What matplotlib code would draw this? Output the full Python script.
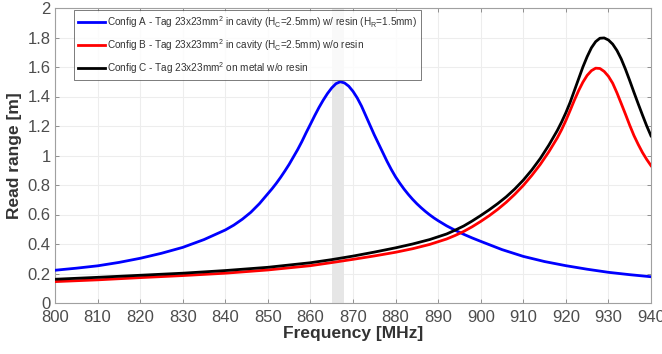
import matplotlib
matplotlib.use("Agg")
import matplotlib.pyplot as plt

plt.rcParams['font.family'] = ['Liberation Sans', 'DejaVu Sans']
plt.rcParams['mathtext.fontset'] = 'custom'
plt.rcParams['mathtext.rm'] = 'Liberation Sans'
plt.rcParams['mathtext.it'] = 'Liberation Sans:italic'
plt.rcParams['mathtext.bf'] = 'Liberation Sans:bold'

# Config A (blue)
freq_a = [800, 805, 810, 815, 820, 825, 830, 835, 840, 842, 844, 846, 848,
          850, 851, 852, 853, 854, 855, 856, 857, 858, 859, 860, 861, 862, 863,
          864, 865, 866, 867, 868, 869, 870, 871, 872, 873, 874, 875, 876, 877,
          878, 879, 880, 881, 882, 883, 884, 885, 886, 887, 888, 889, 890, 892,
          894, 896, 898, 900, 905, 910, 915, 920, 925, 930, 935, 940]
config_a = [0.222, 0.236, 0.252, 0.275, 0.303, 0.337, 0.377, 0.43, 0.495, 0.528,
            0.568, 0.615, 0.673,
            0.741, 0.775, 0.812, 0.852, 0.895, 0.94, 0.99, 1.04, 1.095, 1.155,
            1.212, 1.27, 1.325, 1.375, 1.42, 1.458, 1.487, 1.50, 1.492, 1.47,
            1.435, 1.39, 1.335, 1.27, 1.205, 1.14, 1.08, 1.02, 0.96, 0.905, 0.855,
            0.812, 0.772, 0.736, 0.703, 0.673, 0.646, 0.621, 0.598, 0.577, 0.558,
            0.523, 0.493, 0.466, 0.441, 0.418, 0.362, 0.316, 0.281, 0.253, 0.229,
            0.208, 0.192, 0.178]

# Config B (red)
freq_b = [800, 810, 820, 830, 840, 850, 860, 865, 870, 875, 880, 884, 888, 892,
          894, 896, 898, 900, 902, 904, 906, 908, 910, 912, 914, 916, 918, 919,
          920, 921, 922, 923, 924, 925, 926, 927, 928, 929, 930, 931, 932, 933,
          934, 935, 936, 937, 938, 939, 940]
config_b = [0.145, 0.157, 0.172, 0.186, 0.202, 0.224, 0.253, 0.274, 0.296, 0.319,
            0.344, 0.368, 0.397, 0.434, 0.458, 0.485, 0.517, 0.553, 0.592, 0.635,
            0.683, 0.737, 0.797, 0.865, 0.94, 1.025, 1.12, 1.175, 1.237, 1.305,
            1.375, 1.44, 1.497, 1.543, 1.575, 1.592, 1.59, 1.57, 1.537, 1.49,
            1.425, 1.353, 1.28, 1.205, 1.135, 1.075, 1.02, 0.973, 0.931]

# Config C (black)
freq_c = [800, 810, 820, 830, 840, 850, 860, 865, 870, 875, 880, 884, 888, 892,
          894, 896, 898, 900, 902, 904, 906, 908, 910, 912, 914, 916, 918, 919,
          920, 921, 922, 923, 924, 925, 926, 927, 928, 929, 930, 931, 932, 933,
          934, 935, 936, 937, 938, 939, 940]
config_c = [0.161, 0.174, 0.188, 0.202, 0.22, 0.242, 0.273, 0.294, 0.318, 0.345,
            0.374, 0.40, 0.43, 0.468, 0.494, 0.522, 0.556, 0.593, 0.632, 0.674,
            0.72, 0.773, 0.833, 0.902, 0.98, 1.07, 1.17, 1.227, 1.29, 1.36, 1.44,
            1.52, 1.60, 1.67, 1.73, 1.772, 1.795, 1.797, 1.783, 1.755, 1.712,
            1.655, 1.585, 1.508, 1.428, 1.35, 1.274, 1.20, 1.133]

band = [865, 868]

labels = [
    r"Config A - Tag 23x23mm$^{2}$ in cavity (H$_{\mathrm{C}}$=2.5mm) w/ resin (H$_{\mathrm{R}}$=1.5mm)",
    r"Config B - Tag 23x23mm$^{2}$ in cavity (H$_{\mathrm{C}}$=2.5mm) w/o resin",
    r"Config C - Tag 23x23mm$^{2}$ on metal w/o resin",
]

xticks = list(range(800, 941, 10))
yticks = [0, 0.2, 0.4, 0.6, 0.8, 1.0, 1.2, 1.4, 1.6, 1.8, 2.0]
yticklabels = ['0', '0.2', '0.4', '0.6', '0.8', '1', '1.2', '1.4', '1.6', '1.8', '2']

fig = plt.figure(figsize=(6.62, 3.54), dpi=100)
ax = fig.add_axes([55 / 662, 51 / 354, 596 / 662, 295 / 354])

ax.axvspan(band[0], band[1], color='#e6e6e6', zorder=1, lw=0)
ax.plot(freq_a, config_a, color='#0000ff', lw=2, label=labels[0], zorder=3)
ax.plot(freq_b, config_b, color='#ff0000', lw=2, label=labels[1], zorder=3)
ax.plot(freq_c, config_c, color='#000000', lw=2, label=labels[2], zorder=3)

ax.set_xlim(800, 940)
ax.set_ylim(0, 2)
ax.set_xticks(xticks)
ax.set_xticklabels([str(x) for x in xticks])
ax.set_yticks(yticks)
ax.set_yticklabels(yticklabels)
ax.grid(True, color='#ededed', lw=0.8, zorder=0)
ax.set_axisbelow(True)
ax.tick_params(direction='in', top=True, right=True, length=3, width=0.6,
               color='#808080', labelcolor='#4d4d4d', labelsize=12)
ax.tick_params(axis='x', pad=5)
ax.tick_params(axis='y', pad=3)
for s in ax.spines.values():
    s.set_color('#a0a0a0')
    s.set_linewidth(0.8)

ax.set_xlabel('Frequency [MHz]', fontsize=12.5, fontweight='bold', color='#333333', labelpad=1)
ax.set_ylabel('Read range [m]', fontsize=12.5, fontweight='bold', color='#333333', labelpad=4)

leg = ax.legend(loc='upper left', bbox_to_anchor=(0.032, 0.993), borderaxespad=0,
                fontsize=7.2, frameon=True, fancybox=False, handlelength=2.7,
                handletextpad=0.15, labelspacing=0.72, borderpad=0.4)
leg.get_frame().set_edgecolor('#404040')
leg.get_frame().set_linewidth(0.6)
for t in leg.get_texts():
    t.set_color('#333333')

fig.savefig('out.png', dpi=100)
